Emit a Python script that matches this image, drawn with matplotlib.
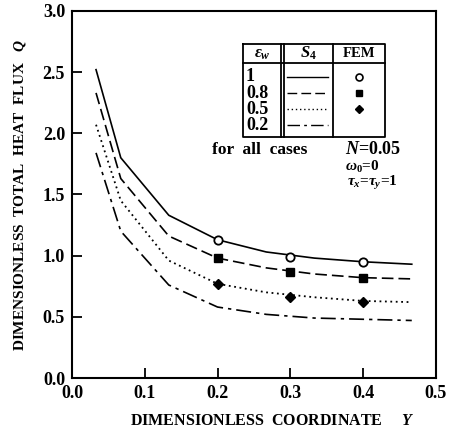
import numpy as np
import matplotlib
matplotlib.use("Agg")
import matplotlib.pyplot as plt

plt.rcParams["font.family"] = "Liberation Serif"
plt.rcParams["font.weight"] = "bold"
plt.rcParams["axes.labelweight"] = "bold"
plt.rcParams["mathtext.fontset"] = "custom"
plt.rcParams["mathtext.rm"] = "Liberation Serif:bold"
plt.rcParams["mathtext.it"] = "Liberation Serif:italic:bold"
plt.rcParams["mathtext.bf"] = "Liberation Serif:bold"

# S4 solution curves
y_coord = [0.033, 0.067, 0.133, 0.2, 0.267, 0.333, 0.4, 0.467]
q_e10 = [2.52, 1.80, 1.33, 1.13, 1.03, 0.98, 0.95, 0.93]
q_e08 = [2.33, 1.63, 1.16, 0.98, 0.90, 0.85, 0.82, 0.81]
q_e05 = [2.07, 1.45, 0.96, 0.77, 0.70, 0.66, 0.63, 0.62]
q_e02 = [1.84, 1.20, 0.76, 0.58, 0.52, 0.49, 0.48, 0.47]

# FEM points
fem_y = [0.2, 0.3, 0.4]
fem_e10 = [1.13, 0.99, 0.95]
fem_e08 = [0.98, 0.87, 0.82]
fem_e05 = [0.77, 0.66, 0.62]

emiss_labels = ["1", "0.8", "0.5", "0.2"]

fig = plt.figure(figsize=(4.53, 4.37), dpi=100)
ax = fig.add_axes([0.159, 0.135, 0.803, 0.840])

ax.plot(y_coord, q_e10, color="black", lw=1.2, linestyle="-")
ax.plot(y_coord, q_e08, color="black", lw=1.2, linestyle=(0, (7, 3)))
ax.plot(y_coord, q_e05, color="black", lw=1.3, linestyle=(0, (1, 2)))
ax.plot(y_coord, q_e02, color="black", lw=1.2, linestyle=(0, (9, 3, 2, 3)))

ax.plot(fem_y, fem_e10, "o", mfc="white", mec="black", mew=1.3, ms=6)
ax.plot(fem_y, fem_e08, "s", color="black", ms=5.5)
ax.plot(fem_y, fem_e05, "D", color="black", ms=5)

ax.set_xlim(0, 0.5)
ax.set_ylim(0, 3.0)
ax.set_xticks(np.arange(0, 0.51, 0.1))
ax.set_yticks(np.arange(0, 3.01, 0.5))
ax.xaxis.set_major_formatter(plt.FormatStrFormatter("%.1f"))
ax.yaxis.set_major_formatter(plt.FormatStrFormatter("%.1f"))
ax.tick_params(direction="in", length=7, width=1.3, labelsize=13, pad=5)
for s in ax.spines.values():
    s.set_linewidth(1.5)

ax.set_xlabel("DIMENSIONLESS  COORDINATE     $Y$", fontsize=11.5)
ax.xaxis.set_label_coords(0.55, -0.095)
ax.set_ylabel("DIMENSIONLESS  TOTAL  HEAT  FLUX   $Q$", fontsize=11)
ax.yaxis.set_label_coords(-0.12, 0.5)

# legend table drawn in axes coordinates
tl, tr, tt, th, tb = 0.470, 0.860, 0.910, 0.858, 0.657
c1, c2 = 0.574, 0.717
kw = dict(transform=ax.transAxes, color="black", lw=1.3)
ax.plot([tl, tr, tr, tl, tl], [tt, tt, tb, tb, tt], **kw)
ax.plot([tl, tr], [th, th], **kw)
ax.plot([c1, c1], [tt, tb], **kw)
ax.plot([c1 + 0.008, c1 + 0.008], [tt, tb], **kw)
ax.plot([c2, c2], [tt, tb], **kw)

hy = (tt + th) / 2
ax.text((tl + c1) / 2, hy, r"$\varepsilon_w$", transform=ax.transAxes,
        ha="center", va="center", fontsize=12)
ax.text((c1 + c2) / 2 + 0.004, hy, r"$S_4$", transform=ax.transAxes,
        ha="center", va="center", fontsize=12)
ax.text((c2 + tr) / 2, hy, "FEM", transform=ax.transAxes,
        ha="center", va="center", fontsize=10.5)

row_y = [0.820, 0.776, 0.732, 0.688]
styles = ["-", (0, (7, 3)), (0, (1, 2)), (0, (9, 3, 2, 3))]
markers = [dict(marker="o", mfc="white", mec="black", mew=1.2, ms=5),
           dict(marker="s", color="black", ms=4.5),
           dict(marker="D", color="black", ms=4)]
for i, lab in enumerate(emiss_labels):
    ax.text(tl + 0.008, row_y[i], lab, transform=ax.transAxes,
            ha="left", va="center", fontsize=13)
    ax.plot([0.590, 0.705], [row_y[i], row_y[i]], transform=ax.transAxes,
            color="black", lw=1.0, linestyle=styles[i])
    if i < 3:
        ax.plot([(c2 + tr) / 2], [row_y[i]], transform=ax.transAxes,
                linestyle="none", **markers[i])

ax.text(0.385, 0.622, "for  all  cases", transform=ax.transAxes,
        ha="left", va="center", fontsize=12.5)
ax.text(0.750, 0.622, "$N$=0.05", transform=ax.transAxes,
        ha="left", va="center", fontsize=13)
ax.text(0.750, 0.575, r"$\omega_0$=0", transform=ax.transAxes,
        ha="left", va="center", fontsize=11)
ax.text(0.755, 0.530, r"$\tau_x$=$\tau_y$=1", transform=ax.transAxes,
        ha="left", va="center", fontsize=11)

fig.savefig("out.png", dpi=100)
